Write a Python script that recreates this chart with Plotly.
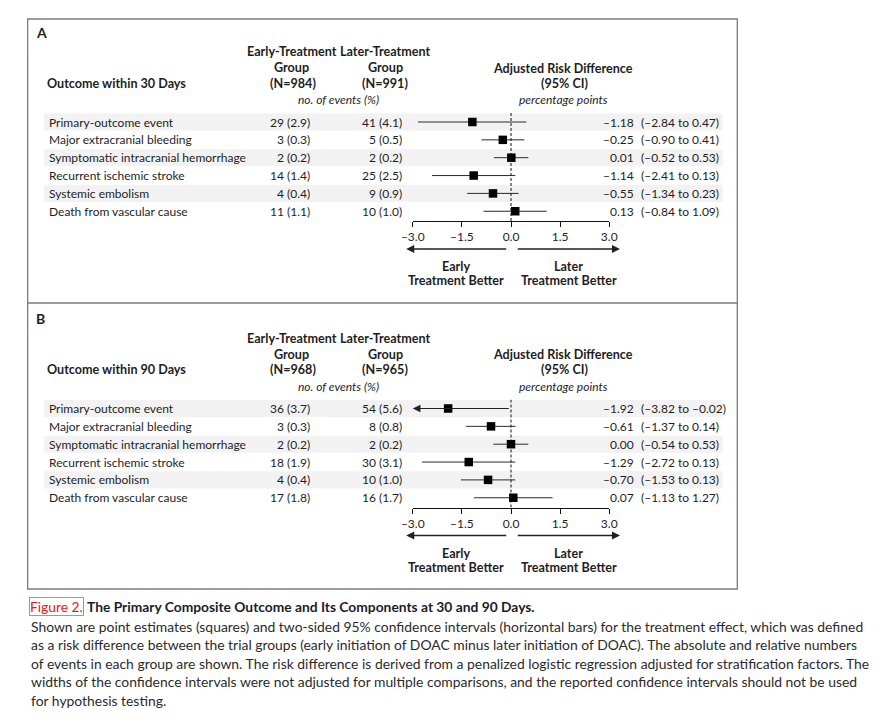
import plotly.graph_objects as go

W, H = 888, 723

# ---------------- data ----------------
outcomes = ["Primary-outcome event", "Major extracranial bleeding",
            "Symptomatic intracranial hemorrhage", "Recurrent ischemic stroke",
            "Systemic embolism", "Death from vascular cause"]

# Panel A: outcome within 30 days
a_early_n = [29, 3, 2, 14, 4, 11]
a_early_pct = [2.9, 0.3, 0.2, 1.4, 0.4, 1.1]
a_later_n = [41, 5, 2, 25, 9, 10]
a_later_pct = [4.1, 0.5, 0.2, 2.5, 0.9, 1.0]
a_rd = [-1.18, -0.25, 0.01, -1.14, -0.55, 0.13]
a_lo = [-2.84, -0.90, -0.52, -2.41, -1.34, -0.84]
a_hi = [0.47, 0.41, 0.53, 0.13, 0.23, 1.09]

# Panel B: outcome within 90 days
b_early_n = [36, 3, 2, 18, 4, 17]
b_early_pct = [3.7, 0.3, 0.2, 1.9, 0.4, 1.8]
b_later_n = [54, 8, 2, 30, 10, 16]
b_later_pct = [5.6, 0.8, 0.2, 3.1, 1.0, 1.7]
b_rd = [-1.92, -0.61, 0.00, -1.29, -0.70, 0.07]
b_lo = [-3.82, -1.37, -0.54, -2.72, -1.53, -1.13]
b_hi = [-0.02, 0.14, 0.53, 0.13, 0.13, 1.27]

tick_vals = [-3.0, -1.5, 0.0, 1.5, 3.0]
tick_text = ["–3.0", "–1.5", "0.0", "1.5", "3.0"]
x_min, x_max = -3.0, 3.0

caption_tag = "Figure 2."
caption_title = "The Primary Composite Outcome and Its Components at 30 and 90 Days."
caption_lines = [
    "Shown are point estimates (squares) and two-sided 95% confidence intervals (horizontal bars) for the treatment effect, which was defined",
    "as a risk difference between the trial groups (early initiation of DOAC minus later initiation of DOAC). The absolute and relative numbers",
    "of events in each group are shown. The risk difference is derived from a penalized logistic regression adjusted for stratification factors. The",
    "widths of the confidence intervals were not adjusted for multiple comparisons, and the reported confidence intervals should not be used",
    "for hypothesis testing.",
]

panels = [
    dict(letter="A", title="Outcome within 30 Days", n_early=984, n_later=991,
         en=a_early_n, ep=a_early_pct, ln=a_later_n, lp=a_later_pct,
         rd=a_rd, lo=a_lo, hi=a_hi),
    dict(letter="B", title="Outcome within 90 Days", n_early=968, n_later=965,
         en=b_early_n, ep=b_early_pct, ln=b_later_n, lp=b_later_pct,
         rd=b_rd, lo=b_lo, hi=b_hi),
]

# ---------------- styling ----------------
FONT = "Lato, 'Open Sans', sans-serif"
CAP_FONT = "Lato, 'Open Sans', sans-serif"
TXT = "#1e1e1e"
FS = 12
FSB = 12.6


def px(x):
    return x / W


def py(y):
    return 1 - y / H


def fmt(v):
    return f"{v:.2f}".replace("-", "–")


fig = go.Figure()
annotations = []
shapes = []


def ann(text, x, y, xanchor="center", size=FS, color=TXT, family=FONT, **kw):
    d = dict(text=text, x=px(x), y=py(y), xref="paper", yref="paper",
             xanchor=xanchor, yanchor="middle", showarrow=False,
             font=dict(size=size, color=color, family=family))
    d.update(kw)
    annotations.append(d)


# outer frame and separator
shapes.append(dict(type="rect", xref="paper", yref="paper",
                   x0=px(16), x1=px(742), y0=py(589), y1=py(19),
                   line=dict(color="#7d7d7d", width=1.3), layer="above"))
shapes.append(dict(type="line", xref="paper", yref="paper",
                   x0=px(16), x1=px(742), y0=py(303), y1=py(303),
                   line=dict(color="#7d7d7d", width=1.3)))

ROW0 = 122.0
ROWH = 17.85
AXIS_Y = 221.0
SHIFT = 286.5
top_i = 1 - (ROW0 - 113) / ROWH
bot_i = 1 + (AXIS_Y - ROW0) / ROWH

layout_axes = {}
for k, p in enumerate(panels):
    off = SHIFT * k
    xa = "x" if k == 0 else f"x{k + 1}"
    ya = "y" if k == 0 else f"y{k + 1}"
    xkey = "xaxis" if k == 0 else f"xaxis{k + 1}"
    ykey = "yaxis" if k == 0 else f"yaxis{k + 1}"

    layout_axes[xkey] = dict(domain=[px(410), px(611)], range=[x_min, x_max], anchor=ya,
                             showgrid=False, zeroline=False, showline=True,
                             linecolor="#111", linewidth=1, ticks="outside", ticklen=5,
                             tickwidth=1, tickcolor="#111", tickvals=tick_vals,
                             ticktext=tick_text, tickfont=dict(size=FS, color=TXT, family=FONT),
                             fixedrange=True)
    layout_axes[ykey] = dict(domain=[py(AXIS_Y + off), py(113 + off)], range=[bot_i, top_i],
                             anchor=xa, visible=False, fixedrange=True)

    # headers
    ann(f"<b>{p['letter']}</b>", 22, 33 + off - (1 if k else 0), xanchor="left", size=14)
    ann("<b>Early-Treatment</b>", 286, 52 + off, size=FSB)
    ann("<b>Group</b>", 286, 67.5 + off, size=FSB)
    ann(f"<b>(N={p['n_early']})</b>", 287, 83 + off, size=FSB)
    ann("<b>Later-Treatment</b>", 382, 52 + off, size=FSB)
    ann("<b>Group</b>", 382, 67.5 + off, size=FSB)
    ann(f"<b>(N={p['n_later']})</b>", 382, 83 + off, size=FSB)
    ann("<i>no. of events (%)</i>", 334, 100 + off)
    ann(f"<b>{p['title']}</b>", 34, 83 + off, xanchor="left", size=FSB)
    ann("<b>Adjusted Risk Difference</b>", 564, 68 + off, size=FSB)
    ann("<b>(95% CI)</b>", 565, 83 + off, size=FSB)
    ann("<i>percentage points</i>", 564, 100 + off)

    # shaded rows
    for i in range(1, 7, 2):
        shapes.append(dict(type="rect", xref="paper", yref=ya, x0=px(33), x1=px(727),
                           y0=i - 0.48, y1=i + 0.48, fillcolor="#f2f2f2",
                           line=dict(width=0), layer="below"))

    rows = list(range(1, 7))
    for i, name in zip(rows, outcomes):
        annotations.append(dict(text=name, x=px(36), y=i, xref="paper", yref=ya,
                                xanchor="left", yanchor="middle", showarrow=False,
                                font=dict(size=FS, color=TXT, family=FONT)))
    for i, n, pc in zip(rows, p["en"], p["ep"]):
        annotations.append(dict(text=f"{n} ({pc:.1f})", x=px(307), y=i, xref="paper", yref=ya,
                                xanchor="right", yanchor="middle", showarrow=False,
                                font=dict(size=FS, color=TXT, family=FONT)))
    for i, n, pc in zip(rows, p["ln"], p["lp"]):
        annotations.append(dict(text=f"{n} ({pc:.1f})", x=px(401), y=i, xref="paper", yref=ya,
                                xanchor="right", yanchor="middle", showarrow=False,
                                font=dict(size=FS, color=TXT, family=FONT)))
    for i, e, lo, hi in zip(rows, p["rd"], p["lo"], p["hi"]):
        annotations.append(dict(text=fmt(e), x=px(638), y=i, xref="paper", yref=ya,
                                xanchor="right", yanchor="middle", showarrow=False,
                                font=dict(size=FS, color=TXT, family=FONT)))
        annotations.append(dict(text=f"({fmt(lo)} to {fmt(hi)})", x=px(641), y=i, xref="paper",
                                yref=ya, xanchor="left", yanchor="middle", showarrow=False,
                                font=dict(size=FS, color=TXT, family=FONT)))

    # dashed null line
    shapes.append(dict(type="line", xref=xa, yref=ya, x0=0, x1=0, y0=top_i, y1=bot_i,
                       line=dict(color="#111", width=1, dash="3px,2px")))

    # confidence intervals
    cx, cy = [], []
    for i, lo, hi in zip(rows, p["lo"], p["hi"]):
        if lo < x_min:
            annotations.append(dict(x=x_min, y=i, ax=hi, ay=i, xref=xa, yref=ya,
                                    axref=xa, ayref=ya, text="", showarrow=True,
                                    arrowhead=2, arrowsize=1.4, arrowwidth=1.1,
                                    arrowcolor="#222"))
        else:
            cx += [lo, min(hi, x_max), None]
            cy += [i, i, None]
    fig.add_trace(go.Scatter(x=cx, y=cy, xaxis=xa, yaxis=ya, mode="lines",
                             line=dict(color="#2a2a2a", width=1), hoverinfo="skip",
                             cliponaxis=False))
    fig.add_trace(go.Scatter(x=p["rd"], y=rows, xaxis=xa, yaxis=ya, mode="markers",
                             marker=dict(symbol="square", size=8.5, color="#000"),
                             cliponaxis=False, hoverinfo="skip"))

    # direction arrows and labels
    arr_py = py(249 + off)
    annotations.append(dict(x=-3.2, y=arr_py, ax=-0.1, ay=0, xref=xa, yref="paper",
                            axref=xa, ayref="pixel", text="", showarrow=True, arrowhead=2,
                            arrowsize=1.15, arrowwidth=1.4, arrowcolor="#222"))
    annotations.append(dict(x=3.33, y=arr_py, ax=0.16, ay=0, xref=xa, yref="paper",
                            axref=xa, ayref="pixel", text="", showarrow=True, arrowhead=2,
                            arrowsize=1.15, arrowwidth=1.4, arrowcolor="#222"))
    ann("<b>Early</b>", 454, 266.5 + off, size=FSB)
    ann("<b>Treatment Better</b>", 454, 281 + off, size=FSB)
    ann("<b>Later</b>", 569, 266.5 + off, size=FSB)
    ann("<b>Treatment Better</b>", 569.5, 281 + off, size=FSB)

# caption
ann(caption_tag, 17, 606, xanchor="left", size=13.8, color="#e02020", family=CAP_FONT,
    bordercolor="#9a9a9a", borderwidth=1, borderpad=0)
ann(f"<b>{caption_title}</b>", 75, 606, xanchor="left", size=13.8, color="#1c1c2a",
    family=CAP_FONT)
for j, line in enumerate(caption_lines):
    ann(line, 17, 626 + 18.6 * j, xanchor="left", size=13.9, color="#2b2b2b", family=CAP_FONT)

fig.update_layout(width=W, height=H, autosize=False,
                  margin=dict(l=0, r=0, t=0, b=0),
                  paper_bgcolor="white", plot_bgcolor="rgba(0,0,0,0)",
                  showlegend=False, annotations=annotations, shapes=shapes,
                  **layout_axes)

fig.write_html("out.html", config={"displayModeBar": False},
               post_script="document.body.style.margin='0';document.body.style.overflow='hidden';")
